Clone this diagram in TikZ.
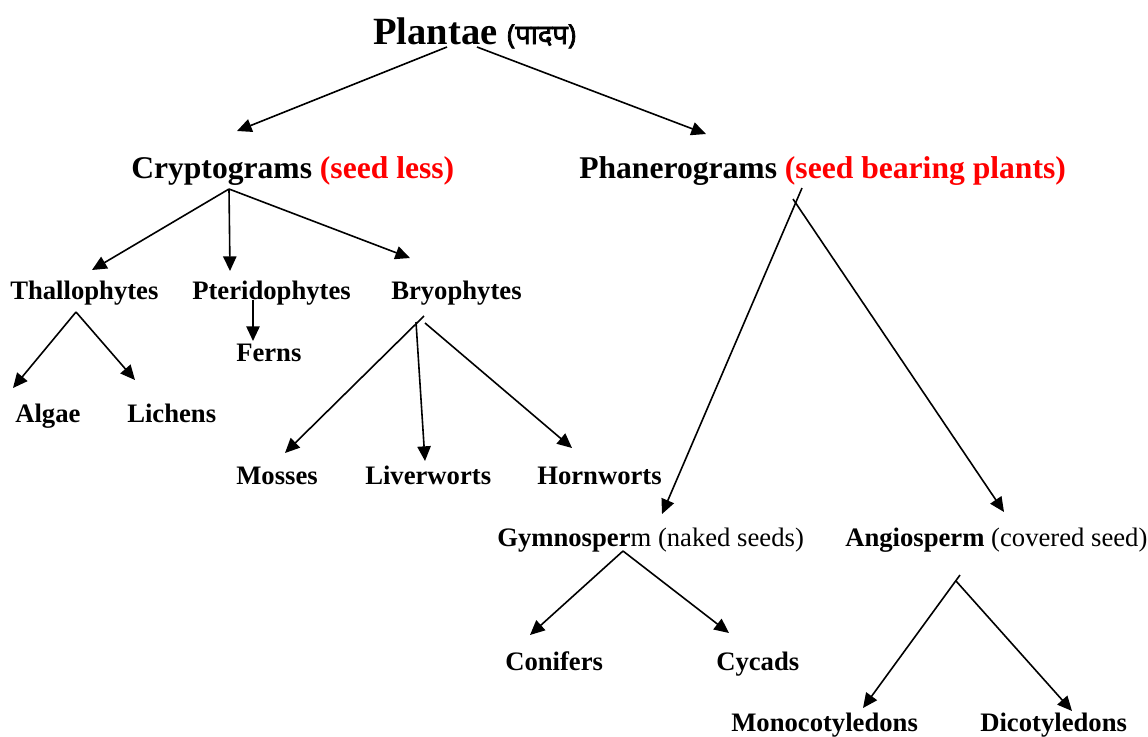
\documentclass[tikz,border=0pt]{standalone}
\usepackage{fontspec}
\setmainfont{Liberation Serif}
\newfontfamily\deva[Script=Devanagari,FakeBold=2.5]{Noto Sans}
\usetikzlibrary{arrows.meta}
\definecolor{seedred}{RGB}{255,0,0}
\tikzset{
  lbl/.style={anchor=base west,inner sep=0pt,font=\fontsize{20}{24}\selectfont\bfseries},
  lvltwo/.style={anchor=base west,inner sep=0pt,font=\fontsize{23.7}{28}\selectfont\bfseries},
  conn/.style={line width=1.2pt},
  arr/.style={conn,-{Triangle[length=11pt,width=10pt]}}
}
\begin{document}
\begin{tikzpicture}[x=0.75pt,y=-0.75pt]
\useasboundingbox (0,0) rectangle (1148,736);
% nodes
\node[anchor=base west,inner sep=0pt] (plantae) at (373,44) {\fontsize{28.9}{34}\selectfont\bfseries Plantae \fontsize{20.5}{24}\selectfont{\deva (पादप)}};
\node[lvltwo] (crypt) at (131,178) {Cryptograms \textcolor{seedred}{(seed less)}};
\node[lvltwo] (phan) at (579,178) {Phanerograms \textcolor{seedred}{(seed bearing plants)}};
\node[lbl] (thall) at (10,299) {Thallophytes};
\node[lbl] (pteri) at (192,299) {Pteridophytes};
\node[lbl] (bryo) at (391,299) {Bryophytes};
\node[lbl] (ferns) at (236,361) {Ferns};
\node[lbl] (algae) at (15,422) {Algae};
\node[lbl] (lichens) at (127,422) {Lichens};
\node[lbl] (mosses) at (236,484) {Mosses};
\node[lbl] (liver) at (365,484) {Liverworts};
\node[lbl] (horn) at (537,484) {Hornworts};
\node[lbl] (gymno) at (497,546) {Gymnosper\mdseries m (naked seeds)};
\node[lbl] (angio) at (845,546) {Angiosperm \mdseries(covered seed)};
\node[lbl] (conif) at (505,670) {Conifers};
\node[lbl] (cycads) at (716,670) {Cycads};
\node[lbl] (mono) at (731,731) {Monocotyledons};
\node[lbl] (dico) at (980,731) {Dicotyledons};
% connector end points
\coordinate (pl1) at (447,47);
\coordinate (pl2) at (477,47);
\coordinate (cryA) at (237,131);
\coordinate (phaA) at (706,134);
\coordinate (crO) at (229,189);
\coordinate (thA) at (92,270);
\coordinate (ptA) at (230,271);
\coordinate (brA) at (410,258);
\coordinate (thO) at (76,312);
\coordinate (alA) at (13,388);
\coordinate (liA) at (135,380);
\coordinate (ptO) at (253,300);
\coordinate (feA) at (253,341);
\coordinate (brO1) at (424,316);
\coordinate (brO2) at (416,322);
\coordinate (brO3) at (425,323);
\coordinate (moA) at (285,453);
\coordinate (lvA) at (425,461);
\coordinate (hoA) at (572,448);
\coordinate (phO1) at (802,188);
\coordinate (phO2) at (793,199);
\coordinate (gyA) at (662,514);
\coordinate (anA) at (1004,512);
\coordinate (gyO) at (623,551);
\coordinate (coA) at (530,635);
\coordinate (cyA) at (729,633);
\coordinate (anO1) at (960,575);
\coordinate (anO2) at (956,581);
\coordinate (moncA) at (863,708);
\coordinate (dicA) at (1072,711);
% connectors
\draw[arr] (pl1) -- (cryA);
\draw[arr] (pl2) -- (phaA);
\draw[arr] (crO) -- (thA);
\draw[arr] (crO) -- (ptA);
\draw[arr] (crO) -- (brA);
\draw[arr] (thO) -- (alA);
\draw[arr] (thO) -- (liA);
\draw[arr] (ptO) -- (feA);
\draw[arr] (brO1) -- (moA);
\draw[arr] (brO2) -- (lvA);
\draw[arr] (brO3) -- (hoA);
\draw[arr] (phO1) -- (gyA);
\draw[arr] (phO2) -- (anA);
\draw[arr] (gyO) -- (coA);
\draw[arr] (gyO) -- (cyA);
\draw[arr] (anO1) -- (moncA);
\draw[arr] (anO2) -- (dicA);
\end{tikzpicture}
\end{document}
